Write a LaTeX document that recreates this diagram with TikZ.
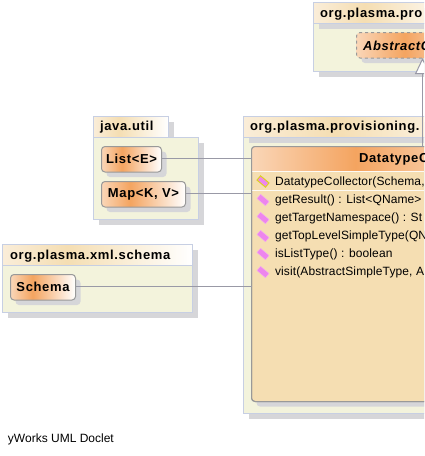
\documentclass[tikz,border=0pt]{standalone}
\usepackage{fontspec}
\setmainfont{Liberation Sans}
\newfontfamily\labelfont[LetterSpace=5]{Liberation Sans}
\newfontfamily\memberfont[LetterSpace=1]{Liberation Sans}
\usetikzlibrary{arrows.meta,shadows}
\definecolor{pkgline}{rgb}{0.78,0.81,0.89}
\definecolor{pkgfill}{rgb}{0.953,0.953,0.863}
\definecolor{shadowgr}{rgb}{0.84,0.84,0.85}
\definecolor{clsline}{rgb}{0.6,0.6,0.6}
\definecolor{clsfill}{rgb}{0.96,0.87,0.70}
\definecolor{conn}{rgb}{0.6,0.6,0.65}
\definecolor{orng}{rgb}{0.957,0.643,0.376}
\definecolor{pale}{rgb}{0.98,0.84,0.72}
\definecolor{tanh}{rgb}{0.96,0.87,0.70}
\definecolor{tanl}{rgb}{0.98,0.93,0.85}
\definecolor{pnk}{rgb}{0.93,0.52,0.93}
\pgfdeclarehorizontalshading{clsgrad}{100bp}{color(0bp)=(pale);color(25bp)=(pale);color(42bp)=(orng);color(75bp)=(white);color(100bp)=(white)}
\pgfdeclarehorizontalshading{pkggrad}{100bp}{color(0bp)=(tanl);color(25bp)=(tanl);color(42bp)=(tanh);color(75bp)=(white);color(100bp)=(white)}
\tikzset{
	every node/.style={inner sep=0pt,outer sep=0pt},
	drop/.style={drop shadow={shadow xshift=5pt,shadow yshift=-5pt,fill=shadowgr,opacity=1}},
	box/.style={anchor=north west,minimum width=#1},
	pkgbody/.style={box=#1,draw=pkgline,line width=1pt,fill=pkgfill,drop},
	pkghead/.style={box=#1,minimum height=21pt,draw=pkgline,line width=1pt,shading=pkggrad,drop},
	cls/.style={box=#1,minimum height=25.5pt,rounded corners=3.5pt,draw=clsline,line width=1pt,shading=clsgrad,drop},
	pkglabel/.style={anchor=west,font=\labelfont\bfseries\fontsize{13}{15}\selectfont},
	clslabel/.style={font=\labelfont\bfseries\fontsize{13}{15}\selectfont},
	member/.style={anchor=west,font=\memberfont\fontsize{12}{14}\selectfont},
	icon/.style={minimum width=11pt,minimum height=5.5pt,rotate=-40,fill=pnk,draw=pnk!70}
}

\begin{document}
\begin{tikzpicture}[x=1pt,y=-1pt]
	\useasboundingbox (0,0) rectangle (424,456);
	\clip (0,0) rectangle (424,456);
	% top package
	\node[pkgbody=150,minimum height=48pt] (topbody) at (313.5,23.5) {};
	\node[pkghead=150] (tophead) at (313.5,2.5) {};
	\node[pkglabel] at (320,14) {org.plasma.pro};
	\node[cls=141,dashed] (absc) at (356.5,32.5) {};
	\node[anchor=west,font=\labelfont\bfseries\itshape\fontsize{13}{15}\selectfont] at (363,46) {AbstractC};
	% java.util
	\node[pkghead=75] (jhead) at (93.5,116.5) {};
	\node[pkgbody=105,minimum height=82pt] (jbody) at (93.5,137.5) {};
	\node[pkglabel] at (100,127.5) {java.util};
	\node[cls=60] (liste) at (101.5,146.5) {};
	\node[clslabel] at (liste.center) {List<E>};
	\node[cls=84] (mapkv) at (101.5,181.5) {};
	\node[clslabel] at (mapkv.center) {Map<K, V>};
	% schema
	\node[pkghead=190] (shead) at (2.5,244.5) {};
	\node[pkgbody=190,minimum height=47pt] (sbody) at (2.5,265.5) {};
	\node[pkglabel] at (10,256) {org.plasma.xml.schema};
	\node[cls=65] (schema) at (10.5,274.5) {};
	\node[clslabel] at (schema.center) {Schema};
	% provisioning package
	\node[pkgbody=322,minimum height=276pt] (pbody) at (243.5,137.5) {};
	\node[pkghead=270] (phead) at (243.5,116.5) {};
	\node[pkglabel] at (250,127.5) {org.plasma.provisioning.};
	\node[box=306,minimum height=255pt,rounded corners=3.5pt,draw=clsline,line width=1pt,fill=clsfill,drop] (dtc) at (251.5,146.5) {};
	\begin{scope}
		\clip[rounded corners=3.5pt] (251.5,146.5) rectangle (557.5,401.5);
		\node[box=306,minimum height=25pt,shading=clsgrad] (dtchead) at (251.5,146.5) {};
		\draw[white!85!clsfill,line width=1pt] (251.5,171.5) -- (424,171.5);
		\draw[white!85!clsfill,line width=1pt] (251.5,190.5) -- (424,190.5);
	\end{scope}
	\draw[clsline,line width=1pt,rounded corners=3.5pt] (557.5,401.5) -- (251.5,401.5) -- (251.5,146.5) -- (557.5,146.5);
	\node[anchor=west,font=\labelfont\bfseries\fontsize{13}{15}\selectfont] at (359,159) {DatatypeC};
	% members
	\foreach \y/\txt in {182/{DatatypeCollector(Schema,},
		200.5/getResult() : List<QName>,
		218.5/getTargetNamespace() : St,
		236.5/getTopLevelSimpleType(QN,
		254.5/isListType() : boolean,
		272.5/{visit(AbstractSimpleType, AI}} {
		\node[icon] at (263,\y-0.5) {};
		\node[member] at (275,\y) {\txt};
	}
	\node[icon,draw=yellow!85!black,line width=1pt] at (263,181.5) {};
	% connectors
	\draw[conn,line width=1pt] ([yshift=1pt]liste.east) -- ([yshift=1pt]liste.east -| dtc.west);
	\draw[conn,line width=1pt] ([yshift=1pt]mapkv.east) -- ([yshift=1pt]mapkv.east -| dtc.west);
	\draw[conn,line width=1pt] ([yshift=1pt]schema.east) -- ([yshift=1pt]schema.east -| dtc.west);
	\coordinate (gen) at (422.5,146.5);
	\draw[-{Triangle[open,fill=white,length=16pt,width=15pt]},conn,line width=1pt] (gen) -- (gen |- absc.south);
	\node[anchor=west,font=\fontsize{12}{14}\selectfont] (credit) at (8,439) {yWorks UML Doclet};
\end{tikzpicture}
\end{document}
